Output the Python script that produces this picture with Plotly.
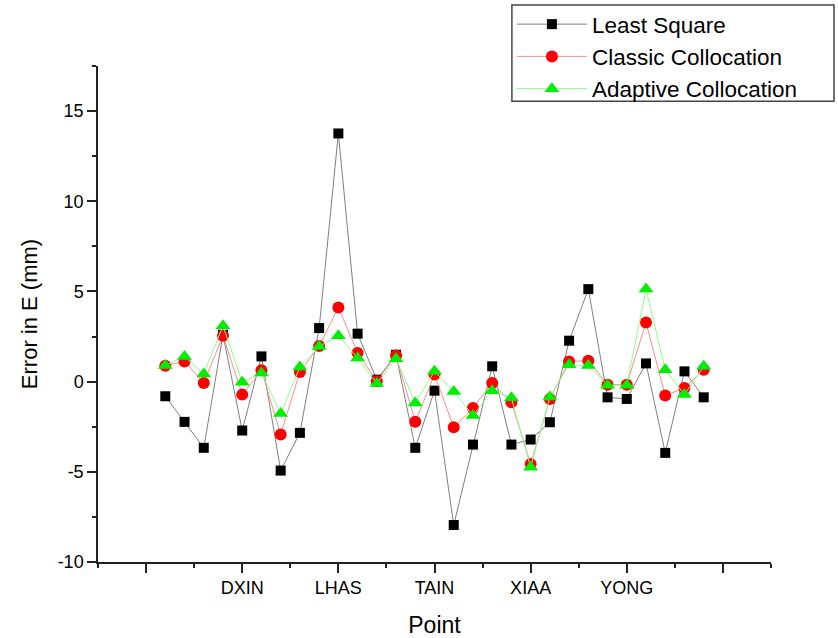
import plotly.graph_objects as go

point_index = [1, 2, 3, 4, 5, 6, 7, 8, 9, 10, 11, 12, 13, 14, 15,
               16, 17, 18, 19, 20, 21, 22, 23, 24, 25, 26, 27, 28, 29]

least_square = [-0.81, -2.23, -3.67, 2.6, -2.71, 1.40, -4.93, -2.84, 2.97, 13.76,
                2.66, 0.11, 1.49, -3.67, -0.50, -7.95, -3.49, 0.85, -3.49, -3.21,
                -2.25, 2.27, 5.13, -0.87, -0.96, 1.01, -3.95, 0.57, -0.87]

classic_collocation = [0.88, 1.12, -0.07, 2.55, -0.72, 0.63, -2.93, 0.54, 1.97, 4.11,
                       1.59, 0.02, 1.45, -2.23, 0.39, -2.53, -1.46, -0.07, -1.14, -4.56,
                       -0.96, 1.12, 1.16, -0.17, -0.17, 3.28, -0.77, -0.35, 0.66]

adaptive_collocation = [0.89, 1.40, 0.42, 3.10, -0.04, 0.48, -1.77, 0.81, 1.95, 2.55,
                        1.31, -0.11, 1.27, -1.18, 0.57, -0.54, -1.88, -0.50, -0.90, -4.74,
                        -0.85, 0.94, 0.89, -0.2, -0.2, 5.13, 0.66, -0.72, 0.85]

tick_positions = [0, 5, 10, 15, 20, 25, 30]
tick_labels = ["", "DXIN", "LHAS", "TAIN", "XIAA", "YONG", ""]
minor_x_ticks = [-2.5, 2.5, 7.5, 12.5, 17.5, 22.5, 27.5, 32.5]

y_tick_values = [-10, -5, 0, 5, 10, 15]
y_tick_labels = ["-10", "-5", "0", "5", "10", "15"]
minor_y_ticks = [-7.5, -2.5, 2.5, 7.5, 12.5, 17.5]

FONT = "Liberation Sans, Arial, sans-serif"

fig = go.Figure()
fig.add_trace(go.Scatter(
    x=point_index, y=least_square, name="Least Square", mode="lines+markers",
    line=dict(color="#7f7f7f", width=1),
    marker=dict(symbol="square", color="black", size=10)))
fig.add_trace(go.Scatter(
    x=point_index, y=classic_collocation, name="Classic Collocation", mode="lines+markers",
    line=dict(color="#ff8c8c", width=1),
    marker=dict(symbol="circle", color="#ff0000", size=12)))
fig.add_trace(go.Scatter(
    x=point_index, y=adaptive_collocation, name="Adaptive Collocation", mode="lines+markers",
    line=dict(color="#8cff8c", width=1),
    marker=dict(symbol="triangle-up", color="#00ee00", size=13)))

# legend frame drawn as a paper-anchored rectangle
fig.add_shape(type="rect", xref="paper", yref="paper",
              x0=0.615, x1=1.0936, y0=0.929, y1=1.123,
              line=dict(color="#444", width=1.5), fillcolor="rgba(0,0,0,0)")

fig.update_layout(
    width=838, height=638,
    margin=dict(l=98, r=67, t=66, b=76, autoexpand=False),
    paper_bgcolor="white", plot_bgcolor="white",
    font=dict(family=FONT, color="black"),
    showlegend=True,
    legend=dict(
        x=0.615, y=1.127, xanchor="left", yanchor="top",
        borderwidth=0, bgcolor="rgba(0,0,0,0)",
        font=dict(size=22.5, family=FONT),
        itemwidth=70, tracegroupgap=0,
    ),
    xaxis=dict(
        range=[-2.5, 32.5], showline=True, linecolor="#222", linewidth=1.5,
        showgrid=False, zeroline=False, automargin=False,
        tickmode="array", tickvals=tick_positions, ticktext=tick_labels,
        ticks="outside", ticklen=9, tickwidth=1.5, tickcolor="#222",
        tickfont=dict(size=18, family=FONT),
        minor=dict(tickvals=minor_x_ticks, ticks="outside", ticklen=4,
                   tickwidth=1.5, tickcolor="#222", showgrid=False),
        title=dict(text="Point", font=dict(size=23, family=FONT), standoff=22),
    ),
    yaxis=dict(
        range=[-10, 17.5], showline=True, linecolor="#222", linewidth=1.5,
        showgrid=False, zeroline=False, automargin=False,
        tickmode="array", tickvals=y_tick_values, ticktext=y_tick_labels,
        ticks="outside", ticklen=9, tickwidth=1.5, tickcolor="#222",
        tickfont=dict(size=18, family=FONT),
        minor=dict(tickvals=minor_y_ticks, ticks="outside",
                   ticklen=4, tickwidth=1.5, tickcolor="#222", showgrid=False),
        title=dict(text="Error in E (mm)", font=dict(size=22, family=FONT), standoff=14),
    ),
)

fig.write_html("out.html")
